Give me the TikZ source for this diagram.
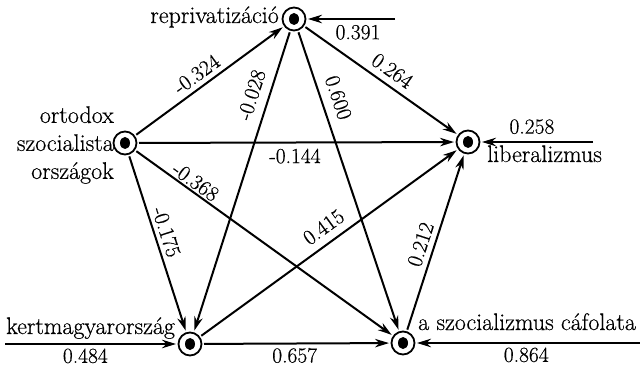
\documentclass[tikz,border=0pt]{standalone}
\usepackage{fontspec}
\setmainfont{Latin Modern Roman}[UprightFeatures={FakeBold=0.5}]
\usetikzlibrary{arrows.meta}
\begin{document}
\begin{tikzpicture}[x=1pt,y=-1pt,
  var/.style={circle, draw, line width=1.8pt, minimum size=23pt, inner sep=0pt, outer sep=2.5pt,
     path picture={\fill (path picture bounding box.center) ellipse (5pt and 6pt);}},
  arr/.style={line width=2pt, -{Stealth[length=14pt,width=8.5pt,inset=4.5pt]}},
  lab/.style={font=\fontsize{21.5}{24}\selectfont, inner sep=1pt, sloped},
  vname/.style={font=\fontsize{24}{28}\selectfont, inner sep=0pt}
]
\useasboundingbox (0,0) rectangle (640,366);

% variables
\node[var] (R) at (294,19) {};
\node[var] (O) at (125,143) {};
\node[var] (L) at (468,142) {};
\node[var] (K) at (190,344) {};
\node[var] (S) at (403,343) {};

% names
\node[vname, anchor=base east] (tR) at (279,23) {reprivatizáció};
\node[vname, anchor=east, align=right] (tO) at (114,145) {ortodox\\szocialista\\országok};
\node[vname, anchor=base west] (tL) at (487,162) {liberalizmus};
\node[vname, anchor=base west] (tK) at (6,334) {kertmagyarország};
\node[vname, anchor=base west] (tS) at (418,330) {a szocializmus cáfolata};

% free ends of the outside arrows
\coordinate (eR) at (395,19);
\coordinate (eL) at (593,142);
\coordinate (eK) at (5,344);
\coordinate (eS) at (640,343);

% paths
\draw[arr] (O) -- node[lab, above=3.7pt, pos=0.465] {-0.324} (R);
\draw[arr] (R) -- node[lab, above=8pt, pos=0.227] {-0.028} (K);
\draw[arr] (R) -- node[lab, above=7.7pt, pos=0.238] {0.600} (S);
\draw[arr] (R) -- node[lab, above=5.2pt, pos=0.52] {0.264} (L);
\draw[arr] (O) -- node[lab, below=4.2pt, pos=0.495] {-0.144} (L);
\draw[arr] (O) -- node[lab, above=0.5pt, pos=0.21] {-0.368} (S);
\draw[arr] (O) -- node[lab, above=2.7pt, pos=0.456] {-0.175} (K);
\draw[arr] (K) -- node[lab, above=6.7pt, pos=0.516] {0.415} (L);
\draw[arr] (S) -- node[lab, above=4.2pt, pos=0.465] {0.212} (L);
\draw[arr] (K) -- node[lab, below=2.5pt, pos=0.49] {0.657} (S);

% outside arrows
\draw[arr] (eR) -- node[lab, below=4pt, pos=0.425] {0.391} (R);
\draw[arr] (eL) -- node[lab, above=6pt, pos=0.55] {0.258} (L);
\draw[arr] (eK) -- node[lab, below=2.5pt, pos=0.47] {0.484} (K);
\draw[arr] (eS) -- node[lab, below=2.5pt, pos=0.51] {0.864} (S);
\end{tikzpicture}
\end{document}
